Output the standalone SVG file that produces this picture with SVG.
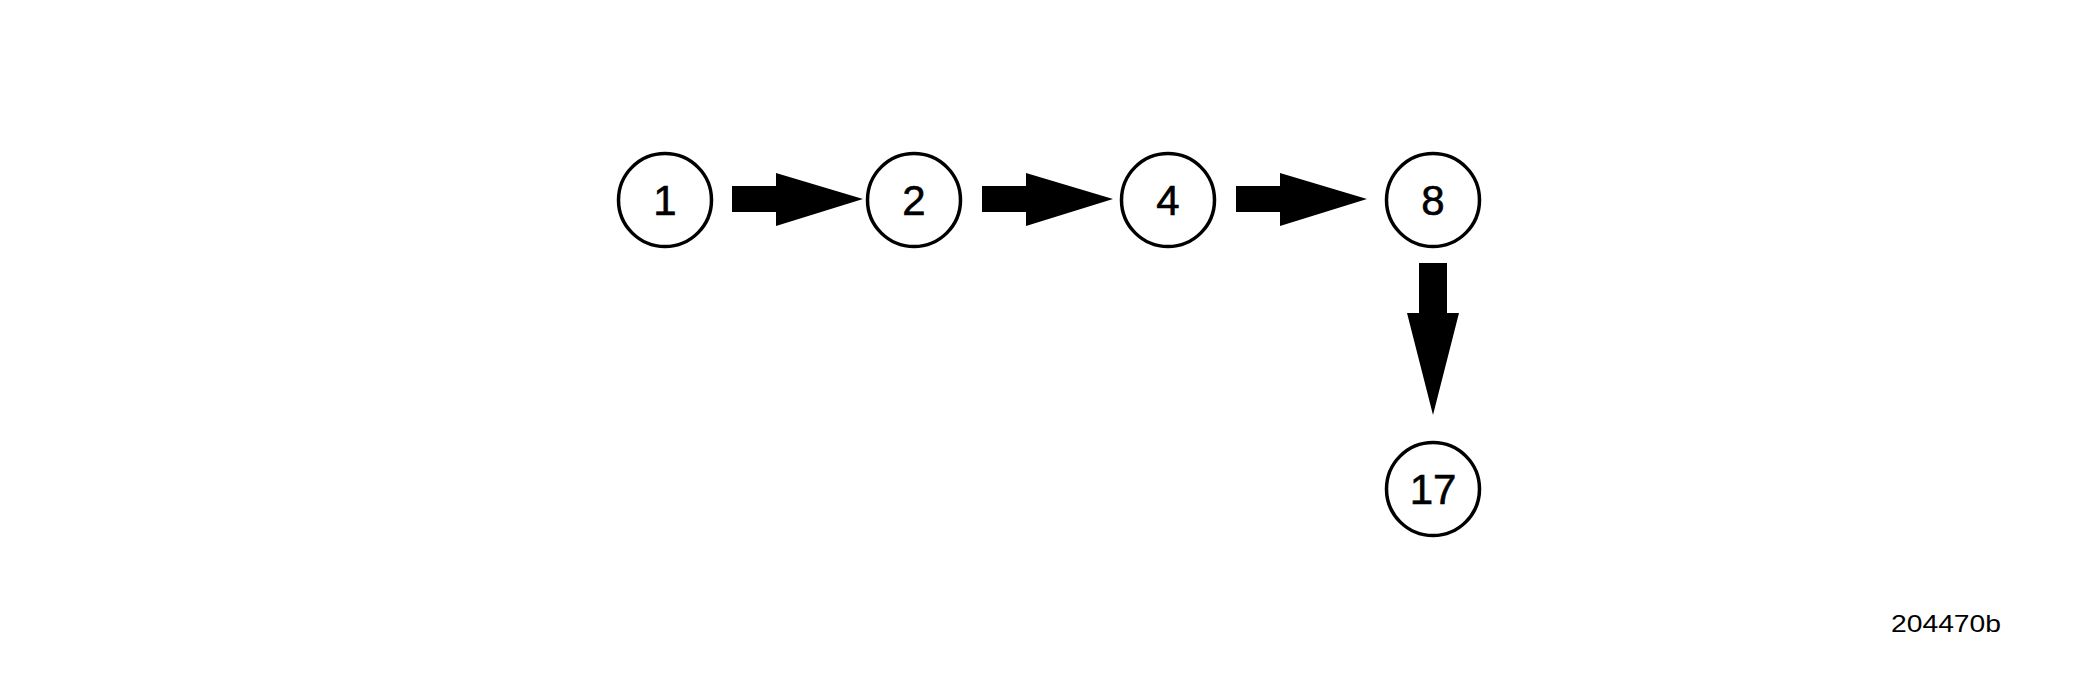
<svg xmlns="http://www.w3.org/2000/svg" width="2100" height="675" viewBox="0 0 2100 675">
<style>
.n circle{fill:#fff;stroke:#000;stroke-width:3.5}
.n text{font-family:"Liberation Sans",Arial,sans-serif;font-size:42px;text-anchor:middle;fill:#000;stroke:#000;stroke-width:0.6}
.a{fill:#000}
.lbl{font-family:"Liberation Sans",Arial,sans-serif;font-size:24px;fill:#000}
</style>
<rect width="2100" height="675" fill="#fff"/>
<g id="connectors">
<path class="a" d="M732,186 H776 V173 L863,199 L776,226 V212 H732 Z"/>
<path class="a" d="M982,186 H1026 V173 L1113,199 L1026,226 V212 H982 Z"/>
<path class="a" d="M1236,186 H1280 V173 L1367,199 L1280,226 V212 H1236 Z"/>
<path class="a" d="M1419,263 H1447 V313 H1459 L1433,415 L1407,313 H1419 Z"/>
</g>
<g id="node1" class="n"><circle cx="665" cy="200" r="46.5"/><text x="665" y="215">1</text></g>
<g id="node2" class="n"><circle cx="914" cy="200" r="46.5"/><text x="914" y="215">2</text></g>
<g id="node4" class="n"><circle cx="1168" cy="200" r="46.5"/><text x="1168" y="215">4</text></g>
<g id="node8" class="n"><circle cx="1433" cy="200" r="46.5"/><text x="1433" y="215">8</text></g>
<g id="node17" class="n"><circle cx="1433" cy="489" r="46.5"/><text x="1433" y="504">17</text></g>
<text class="lbl" x="1891" y="632" textLength="110" lengthAdjust="spacingAndGlyphs">204470b</text>
</svg>
